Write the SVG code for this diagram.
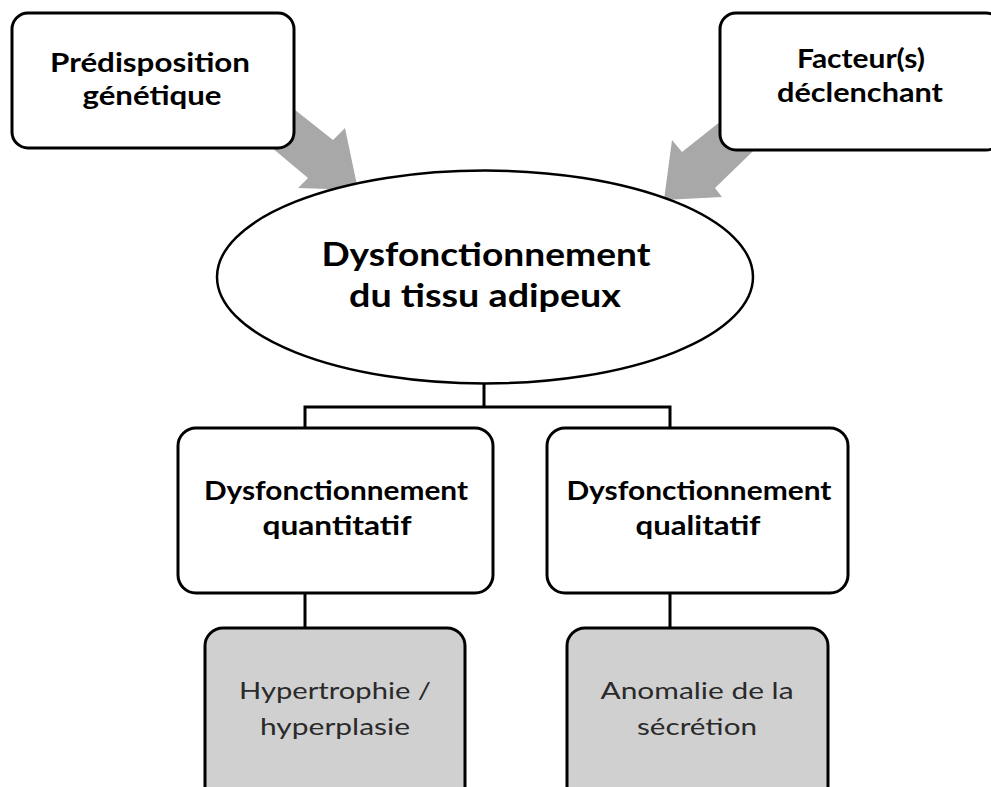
<svg xmlns="http://www.w3.org/2000/svg" width="991" height="787" viewBox="0 0 991 787">
  <style>
    .box { fill: #ffffff; stroke: #000000; stroke-width: 3; }
    .leaf { fill: #d0d0d0; stroke: #000000; stroke-width: 3; }
    .ell { fill: #ffffff; stroke: #000000; stroke-width: 2.5; }
    .conn { fill: none; stroke: #000000; stroke-width: 3; }
    .garrow { fill: #a8a8a8; stroke: none; }
    .tb { font-family: Lato, "Open Sans", "Liberation Sans", sans-serif; font-weight: bold; fill: #000000; text-anchor: middle; }
    .tr { font-family: Lato, "Open Sans", "Liberation Sans", sans-serif; font-weight: normal; fill: #2a2a2a; text-anchor: middle; font-size: 24px; }
  </style>
  <rect width="991" height="787" fill="#ffffff"/>

  <g id="connectors">
    <polygon class="garrow" points="256,79 333,140 345,128 358,190 298,188 308,178 252,131"/>
    <polygon class="garrow" points="750,98 682,152 672,140 664,200 722,197 715,188 780,125"/>
    <path class="conn" d="M484,383 V407 M305,428 V407 H670 V428 M305,593 V628 M670,593 V628"/>
  </g>

  <g id="node-predisposition">
    <rect class="box" x="12" y="13" width="282" height="135" rx="16" ry="16"/>
    <text class="tb" x="150" y="72" font-size="26" textLength="200" lengthAdjust="spacingAndGlyphs">Prédisposition</text>
    <text class="tb" x="152" y="105" font-size="26" textLength="139" lengthAdjust="spacingAndGlyphs">génétique</text>
  </g>

  <g id="node-facteurs">
    <rect class="box" x="720" y="13" width="282" height="137" rx="16" ry="16"/>
    <text class="tb" x="861" y="68" font-size="26" textLength="128" lengthAdjust="spacingAndGlyphs">Facteur(s)</text>
    <text class="tb" x="860" y="102" font-size="26" textLength="166" lengthAdjust="spacingAndGlyphs">déclenchant</text>
  </g>

  <g id="node-dysfonctionnement">
    <ellipse class="ell" cx="485" cy="277" rx="268" ry="106.5"/>
    <text class="tb" x="486" y="266" font-size="32" textLength="329" lengthAdjust="spacingAndGlyphs">Dysfonctionnement</text>
    <text class="tb" x="485" y="307" font-size="32" textLength="272" lengthAdjust="spacingAndGlyphs">du tissu adipeux</text>
  </g>

  <g id="node-quantitatif">
    <rect class="box" x="178" y="428" width="315" height="165" rx="18" ry="18"/>
    <text class="tb" x="336" y="500" font-size="26" textLength="264" lengthAdjust="spacingAndGlyphs">Dysfonctionnement</text>
    <text class="tb" x="337" y="535" font-size="26" textLength="149" lengthAdjust="spacingAndGlyphs">quantitatif</text>
  </g>

  <g id="node-qualitatif">
    <rect class="box" x="547" y="428" width="301" height="165" rx="18" ry="18"/>
    <text class="tb" x="699" y="500" font-size="26" textLength="265" lengthAdjust="spacingAndGlyphs">Dysfonctionnement</text>
    <text class="tb" x="698" y="535" font-size="26" textLength="125" lengthAdjust="spacingAndGlyphs">qualitatif</text>
  </g>

  <g id="node-hypertrophie">
    <rect class="leaf" x="205" y="628" width="260" height="180" rx="18" ry="18"/>
    <text class="tr" x="335" y="699" textLength="192" lengthAdjust="spacingAndGlyphs">Hypertrophie  /</text>
    <text class="tr" x="335" y="735" textLength="150" lengthAdjust="spacingAndGlyphs">hyperplasie</text>
  </g>

  <g id="node-anomalie">
    <rect class="leaf" x="567" y="628" width="261" height="180" rx="18" ry="18"/>
    <text class="tr" x="697" y="699" textLength="193" lengthAdjust="spacingAndGlyphs">Anomalie de la</text>
    <text class="tr" x="697" y="735" textLength="120" lengthAdjust="spacingAndGlyphs">sécrétion</text>
  </g>
</svg>
